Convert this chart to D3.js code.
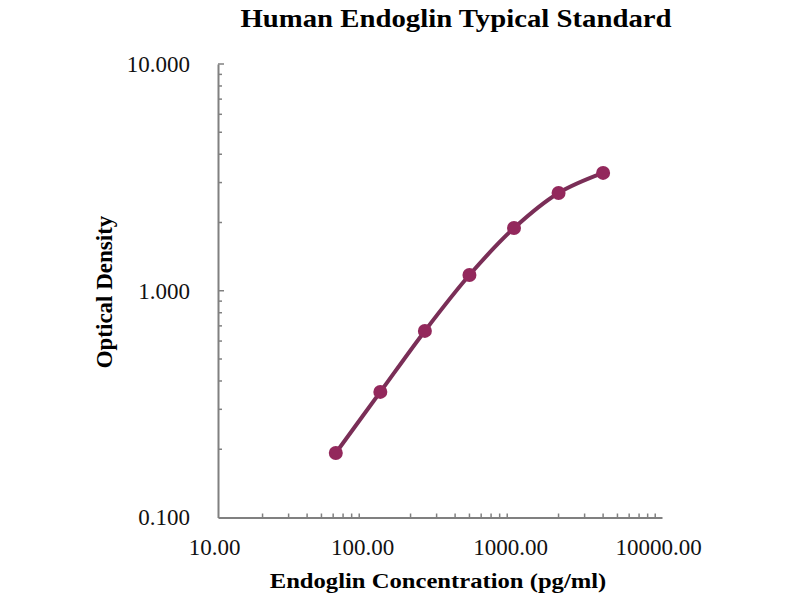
<!DOCTYPE html>
<html>
<head>
<meta charset="utf-8">
<script src="https://cdn.jsdelivr.net/npm/d3@7"></script>
<style>
  body { margin: 0; background: #fff; }
  .axis path, .axis line { stroke: #808080; }
  .axis text { font-family: "Liberation Serif", serif; fill: #111; }
</style>
</head>
<body>
<svg id="chart"></svg>
<script>
// standard curve values
const concentrations = [62.5, 125, 250, 500, 1000, 2000, 4000];
const opticalDensity = [0.1925, 0.358, 0.665, 1.173, 1.89, 2.70, 3.31];
const xTicks = [10, 100, 1000, 10000];
const yTicks = [0.1, 1, 10];

const width = 800, height = 600;
const margin = { top: 64, right: 138, bottom: 82.5, left: 218 };
const innerW = width - margin.left - margin.right;
const innerH = height - margin.top - margin.bottom;

const svg = d3.select("#chart")
    .attr("width", width)
    .attr("height", height);

const g = svg.append("g")
    .attr("transform", `translate(${margin.left},${margin.top})`);

const x = d3.scaleLog().domain([10, 10000]).range([0, innerW]);
const y = d3.scaleLog().domain([0.1, 10]).range([innerH, 0]);

// minor ticks 2..9 within each decade
const minorX = x.ticks().filter(d => !xTicks.includes(d));
const minorY = y.ticks().filter(d => !yTicks.includes(d));

// x axis: ticks point inward (up)
const xAxisG = g.append("g")
    .attr("class", "axis")
    .attr("transform", `translate(0,${innerH})`);
xAxisG.call(d3.axisBottom(x).tickValues(xTicks).tickSize(0).tickPadding(21)
    .tickFormat(d3.format(".2f")));
xAxisG.selectAll("text").attr("font-size", "23px").attr("dx", -4);
xAxisG.select(".domain").attr("stroke-width", 2);
xAxisG.selectAll(".minor").data(minorX).enter().append("line")
    .attr("class", "minor")
    .attr("x1", d => x(d)).attr("x2", d => x(d))
    .attr("y1", 0).attr("y2", -4)
    .attr("stroke", "#808080").attr("stroke-width", 1.5);

// y axis: ticks point inward (right)
const yAxisG = g.append("g").attr("class", "axis");
yAxisG.call(d3.axisLeft(y).tickValues(yTicks).tickSize(0).tickPadding(28)
    .tickFormat(d3.format(".3f")));
yAxisG.selectAll("text").attr("font-size", "23px");
yAxisG.select(".domain").attr("stroke-width", 2);
yAxisG.selectAll(".major").data(yTicks.slice(1)).enter().append("line")
    .attr("class", "major")
    .attr("y1", d => y(d)).attr("y2", d => y(d))
    .attr("x1", 0).attr("x2", 6)
    .attr("stroke", "#808080").attr("stroke-width", 1.5);
yAxisG.selectAll(".minor").data(minorY).enter().append("line")
    .attr("class", "minor")
    .attr("y1", d => y(d)).attr("y2", d => y(d))
    .attr("x1", 0).attr("x2", 4)
    .attr("stroke", "#808080").attr("stroke-width", 1.5);

const points = concentrations.map((c, i) => [c, opticalDensity[i]]);

const line = d3.line()
    .x(d => x(d[0]))
    .y(d => y(d[1]))
    .curve(d3.curveCatmullRom.alpha(0.5));

g.append("path")
    .datum(points)
    .attr("d", line)
    .attr("fill", "none")
    .attr("stroke", "#7a2e57")
    .attr("stroke-width", 4);

g.selectAll(".dot").data(points).enter().append("circle")
    .attr("class", "dot")
    .attr("cx", d => x(d[0]))
    .attr("cy", d => y(d[1]))
    .attr("r", 7)
    .attr("fill", "#93285c");

// titles (the original is a bit wider than Liberation Serif, so stretch a little)
svg.append("text")
    .attr("transform", "translate(456,27) scale(1.15,1)")
    .attr("text-anchor", "middle")
    .attr("font-family", "Liberation Serif, serif")
    .attr("font-weight", "bold")
    .attr("font-size", "25px")
    .text("Human Endoglin Typical Standard");

svg.append("text")
    .attr("transform", "translate(438,588) scale(1.12,1)")
    .attr("text-anchor", "middle")
    .attr("font-family", "Liberation Serif, serif")
    .attr("font-weight", "bold")
    .attr("font-size", "22px")
    .text("Endoglin Concentration (pg/ml)");

svg.append("text")
    .attr("transform", "translate(112,292) rotate(-90)")
    .attr("text-anchor", "middle")
    .attr("font-family", "Liberation Serif, serif")
    .attr("font-weight", "bold")
    .attr("font-size", "23px")
    .text("Optical Density");
</script>
</body>
</html>
